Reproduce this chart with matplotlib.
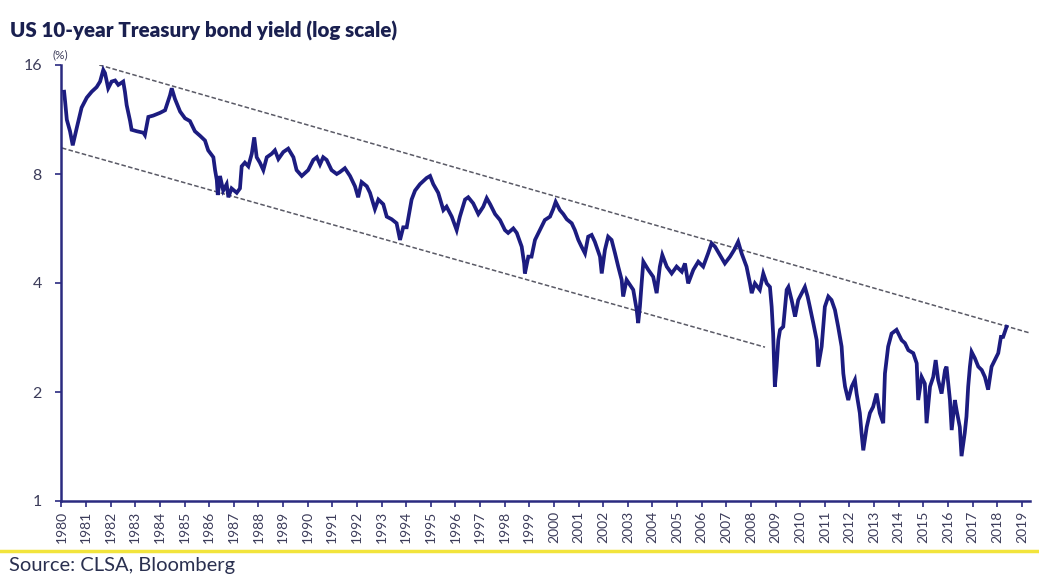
import matplotlib
matplotlib.use("Agg")
import matplotlib.pyplot as plt
from matplotlib.ticker import FixedLocator, NullLocator

# ---- data ----
years = [
    1980.11, 1980.15, 1980.22, 1980.35, 1980.46, 1980.62, 1980.82, 1981.03, 1981.23, 1981.43,
    1981.57, 1981.70, 1981.77, 1981.90, 1982.04, 1982.18, 1982.31, 1982.51, 1982.58, 1982.65,
    1982.79, 1982.85, 1983.06, 1983.33, 1983.39, 1983.53, 1983.73, 1984.00, 1984.21, 1984.41,
    1984.48, 1984.61, 1984.82, 1985.02, 1985.22, 1985.42, 1985.63, 1985.83, 1985.96, 1986.17,
    1986.24, 1986.31, 1986.35, 1986.44, 1986.57, 1986.71, 1986.78, 1986.91, 1987.12, 1987.25,
    1987.32, 1987.45, 1987.59, 1987.73, 1987.83, 1987.93, 1988.06, 1988.20, 1988.34, 1988.54,
    1988.67, 1988.81, 1989.01, 1989.21, 1989.42, 1989.55, 1989.76, 1990.02, 1990.23, 1990.37,
    1990.50, 1990.63, 1990.77, 1990.97, 1991.18, 1991.31, 1991.51, 1991.72, 1991.92, 1992.05,
    1992.19, 1992.40, 1992.53, 1992.73, 1992.87, 1993.07, 1993.21, 1993.41, 1993.61, 1993.75,
    1993.88, 1994.02, 1994.22, 1994.36, 1994.56, 1994.83, 1994.97, 1995.10, 1995.30, 1995.51,
    1995.64, 1995.85, 1996.05, 1996.18, 1996.39, 1996.52, 1996.72, 1996.93, 1997.00, 1997.13,
    1997.27, 1997.41, 1997.61, 1997.81, 1998.01, 1998.14, 1998.35, 1998.49, 1998.69, 1998.79,
    1998.82, 1998.96, 1999.09, 1999.23, 1999.43, 1999.63, 1999.84, 1999.97, 2000.07, 2000.24,
    2000.38, 2000.52, 2000.72, 2000.85, 2000.99, 2001.12, 2001.26, 2001.39, 2001.53, 2001.66,
    2001.87, 2001.94, 2002.07, 2002.20, 2002.34, 2002.48, 2002.61, 2002.75, 2002.81, 2002.95,
    2003.09, 2003.22, 2003.29, 2003.36, 2003.42, 2003.49, 2003.56, 2003.63, 2003.83, 2004.03,
    2004.17, 2004.30, 2004.40, 2004.58, 2004.78, 2004.98, 2005.19, 2005.32, 2005.45, 2005.66,
    2005.86, 2006.06, 2006.26, 2006.40, 2006.54, 2006.74, 2006.94, 2007.15, 2007.32, 2007.48,
    2007.62, 2007.82, 2007.96, 2008.03, 2008.16, 2008.36, 2008.50, 2008.64, 2008.77, 2008.84,
    2008.90, 2008.97, 2009.04, 2009.11, 2009.18, 2009.31, 2009.45, 2009.52, 2009.65, 2009.79,
    2009.92, 2010.06, 2010.19, 2010.30, 2010.39, 2010.53, 2010.67, 2010.73, 2010.87, 2011.00,
    2011.14, 2011.27, 2011.41, 2011.54, 2011.68, 2011.75, 2011.82, 2011.95, 2012.09, 2012.22,
    2012.29, 2012.42, 2012.49, 2012.56, 2012.70, 2012.83, 2012.96, 2013.10, 2013.23, 2013.37,
    2013.44, 2013.57, 2013.71, 2013.91, 2014.12, 2014.25, 2014.39, 2014.59, 2014.73, 2014.79,
    2014.93, 2015.06, 2015.13, 2015.27, 2015.40, 2015.50, 2015.60, 2015.74, 2015.88, 2015.94,
    2016.08, 2016.15, 2016.28, 2016.35, 2016.48, 2016.55, 2016.68, 2016.75, 2016.82, 2016.89,
    2016.96, 2017.09, 2017.23, 2017.37, 2017.50, 2017.63, 2017.77, 2017.90, 2018.04, 2018.15,
    2018.24, 2018.38,
]
yields = [
    13.5, 12.7, 11.3, 10.5, 9.6, 10.7, 12.2, 13.0, 13.5, 13.9,
    14.4, 15.5, 15.2, 13.8, 14.4, 14.5, 14.1, 14.4, 13.5, 12.4,
    11.2, 10.6, 10.5, 10.4, 10.25, 11.5, 11.6, 11.8, 12.0, 13.2,
    13.8, 12.9, 11.9, 11.4, 11.2, 10.5, 10.2, 9.9, 9.3, 8.9,
    8.2, 7.7, 7.0, 7.9, 7.2, 7.5, 6.9, 7.3, 7.1, 7.3,
    8.4, 8.6, 8.4, 9.1, 10.1, 8.9, 8.6, 8.2, 8.9, 9.1,
    9.3, 8.8, 9.2, 9.4, 8.9, 8.2, 7.9, 8.2, 8.75, 8.9,
    8.5, 8.9, 8.75, 8.2, 8.0, 8.1, 8.3, 7.9, 7.4, 6.9,
    7.6, 7.4, 7.1, 6.4, 6.8, 6.6, 6.1, 6.0, 5.85, 5.26,
    5.7, 5.7, 6.8, 7.2, 7.5, 7.8, 7.9, 7.5, 7.1, 6.36,
    6.5, 6.1, 5.6, 6.1, 6.8, 6.9, 6.64, 6.2, 6.3, 6.5,
    6.86, 6.6, 6.2, 5.97, 5.6, 5.5, 5.66, 5.5, 5.04, 4.53,
    4.25, 4.73, 4.73, 5.26, 5.6, 5.97, 6.1, 6.4, 6.7, 6.36,
    6.2, 6.0, 5.85, 5.6, 5.26, 5.04, 4.83, 5.37, 5.43, 5.2,
    4.73, 4.25, 4.94, 5.37, 5.26, 4.83, 4.44, 4.08, 3.67, 4.08,
    3.95, 3.83, 3.59, 3.37, 3.1, 3.44, 3.99, 4.58, 4.35, 4.16,
    3.75, 4.44, 4.78, 4.44, 4.25, 4.44, 4.3, 4.53, 3.99, 4.35,
    4.58, 4.44, 4.83, 5.15, 5.04, 4.78, 4.53, 4.73, 4.94, 5.2,
    4.83, 4.44, 3.99, 3.75, 3.99, 3.83, 4.25, 3.99, 3.9, 3.44,
    2.9, 2.07, 2.35, 2.78, 2.97, 3.03, 3.83, 3.9, 3.59, 3.23,
    3.59, 3.75, 3.9, 3.67, 3.44, 3.1, 2.78, 2.35, 2.67, 3.44,
    3.67, 3.59, 3.37, 3.03, 2.67, 2.25, 2.07, 1.90, 2.07, 2.16,
    1.98, 1.75, 1.54, 1.38, 1.60, 1.75, 1.82, 1.98, 1.75, 1.64,
    2.25, 2.67, 2.9, 2.97, 2.78, 2.73, 2.61, 2.56, 2.4, 1.9,
    2.2, 2.11, 1.64, 2.07, 2.2, 2.45, 2.16, 1.98, 2.3, 2.35,
    1.9, 1.57, 1.9, 1.78, 1.60, 1.33, 1.54, 1.71, 2.07, 2.35,
    2.58, 2.48, 2.35, 2.3, 2.2, 2.03, 2.35, 2.45, 2.56, 2.84,
    2.84, 3.03,
]
# channel (trend) lines: two end points each
upper_x = [1981.0, 2019.33]
upper_y = [16.4, 2.91]
lower_x = [1980.02, 2008.57]
lower_y = [9.44, 2.66]

tick_years = list(range(1980, 2020))
tick_labels = [str(y) for y in tick_years]
ytick_vals = [1, 2, 4, 8, 16]
ytick_labels = ["1", "2", "4", "8", "16"]

title = "US 10-year Treasury bond yield (log scale)"
source = "Source: CLSA, Bloomberg"

# ---- figure ----
plt.rcParams['font.family'] = ['Lato', 'DejaVu Sans']
W, H = 1039, 574
fig = plt.figure(figsize=(W / 100, H / 100), dpi=100)
ax = fig.add_axes([61.4 / W, 1 - 501 / H, (1030 - 61.4) / W, (501 - 65) / H])

navy = '#1c1c80'
axis_col = '#2a2a80'
text_col = '#3c3c5a'

ax.plot(upper_x, upper_y, color='#5a5a66', lw=1.1, ls=(0, (3, 1.5)), zorder=2)
ax.plot(lower_x, lower_y, color='#5a5a66', lw=1.1, ls=(0, (3, 1.5)), zorder=2)
ax.plot(years, yields, color=navy, lw=2.7, zorder=3, solid_joinstyle='miter')

ax.set_yscale('log', base=2)
ax.set_ylim(1, 16)
ax.set_xlim(1980, 2019.33)
ax.yaxis.set_major_locator(FixedLocator(ytick_vals))
ax.yaxis.set_minor_locator(NullLocator())
ax.set_yticklabels(ytick_labels)
ax.set_xticks(tick_years)
ax.set_xticklabels(tick_labels, rotation=90)

for s in ['top', 'right']:
    ax.spines[s].set_visible(False)
for s in ['left', 'bottom']:
    ax.spines[s].set_color(axis_col)
    ax.spines[s].set_linewidth(1.8)
ax.tick_params(axis='y', direction='out', length=4, width=1.2, color=axis_col,
               labelsize=11.5, labelcolor=text_col, pad=10)
ax.tick_params(axis='x', direction='out', length=4, width=1.2, color=axis_col,
               labelsize=10, labelcolor=text_col, pad=3)

ax.text(-9 / (1030 - 61.4), 1.01, '(%)', transform=ax.transAxes, fontsize=8.5,
        color=text_col, ha='left', va='bottom')

fig.text(10 / W, 1 - 31 / H, title, fontsize=14.8, fontweight='heavy', color='#1a2050',
         ha='left', va='center')

fig.add_artist(plt.Line2D([0, 1], [1 - 551 / H, 1 - 551 / H], transform=fig.transFigure,
                          color='#f2e43c', lw=2.5))
fig.text(9 / W, 1 - 566 / H, source, fontsize=14.5, color='#2a3050',
         ha='left', va='center')

fig.savefig('out.png', dpi=100)
